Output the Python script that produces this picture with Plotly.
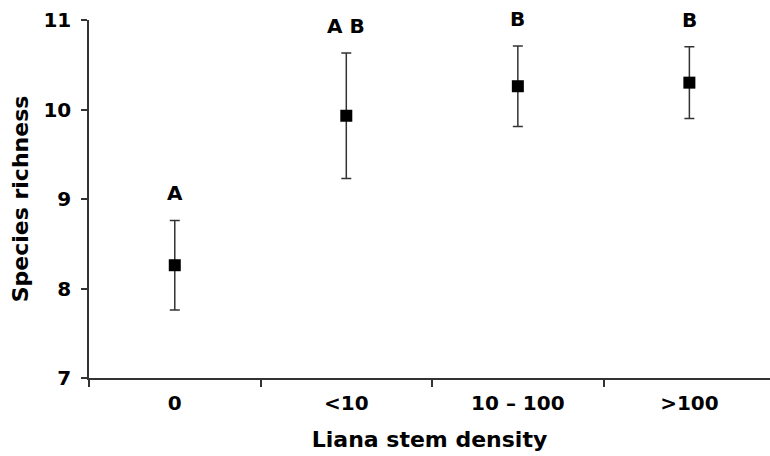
import plotly.graph_objects as go

categories = ["0", "<10", "10 – 100", ">100"]
means = [8.26, 9.93, 10.26, 10.30]
errors = [0.50, 0.70, 0.45, 0.40]
letters = ["A", "A B", "B", "B"]
y_ticks = [7, 8, 9, 10, 11]

FONT = "DejaVu Sans"
AX = "#333333"

fig = go.Figure()
fig.add_trace(go.Scatter(
    x=categories, y=means, mode="markers",
    marker=dict(symbol="square", size=12, color="black"),
    error_y=dict(type="data", array=errors, visible=True,
                 color=AX, thickness=1.5, width=5),
    showlegend=False, cliponaxis=False,
))

for c, m, e, t in zip(categories, means, errors, letters):
    fig.add_annotation(x=c, y=m + e, text=t, showarrow=False,
                       yanchor="middle", yshift=27,
                       font=dict(family=FONT, size=20, color="black", weight="bold"))

fig.update_layout(
    width=770, height=456,
    margin=dict(l=89, r=0, t=20, b=78),
    paper_bgcolor="white", plot_bgcolor="white",
    font=dict(family=FONT, color="black"),
)
fig.update_xaxes(
    type="category", range=[-0.5, 3.47],
    tickson="boundaries", ticks="outside", ticklen=7, tickwidth=1.5, tickcolor=AX,
    showline=True, linecolor=AX, linewidth=1.5, showgrid=False, zeroline=False,
    tickfont=dict(family=FONT, size=20, color="black", weight="bold"),
    ticklabelstandoff=6,
    title=dict(text="Liana stem density", standoff=18,
               font=dict(family=FONT, size=22, color="black", weight="bold")),
)
fig.update_yaxes(
    range=[7, 11], tickvals=y_ticks, ticktext=[str(v) for v in y_ticks],
    ticks="outside", ticklen=6, tickwidth=1.5, tickcolor=AX,
    showline=True, linecolor=AX, linewidth=1.5, showgrid=False, zeroline=False,
    tickfont=dict(family=FONT, size=20, color="black", weight="bold"),
    ticklabelstandoff=6,
    title=dict(text="Species richness", standoff=9,
               font=dict(family=FONT, size=22, color="black", weight="bold")),
)

fig.write_html("out.html")
